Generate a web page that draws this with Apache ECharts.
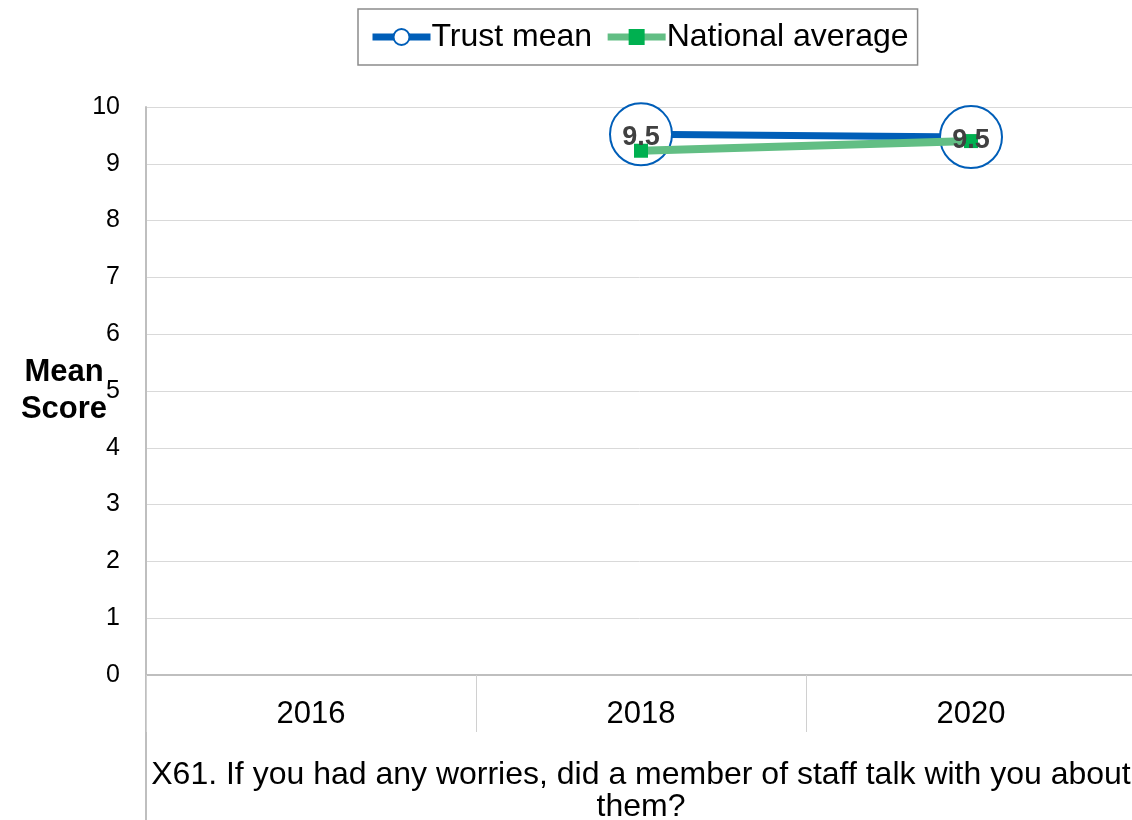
<!DOCTYPE html>
<html><head><meta charset="utf-8">
<script src="https://cdn.jsdelivr.net/npm/echarts@6/dist/echarts.min.js"></script>
<style>html,body{margin:0;padding:0;background:#fff;overflow:hidden}#c{width:1132px;height:820px}</style>
</head><body><div id="c"></div>
<script>
const categories = ['2016', '2018', '2020'];
const trustMean = [null, 9.52, 9.47];
const nationalAvg = [null, 9.23, 9.40];
const yTicks = [0, 10, 1];
const xTitle = 'X61. If you had any worries, did a member of staff talk with you about\nthem?';
const yTitle = 'Mean\nScore';

const chart = echarts.init(document.getElementById('c'));
const font = 'Liberation Sans, Arial, sans-serif';
chart.setOption({
  animation: false,
  textStyle: { fontFamily: font },
  legend: {
    data: [
      { name: 'Trust mean', itemStyle: { color: '#fff', borderColor: '#005EB8', borderWidth: 2 }, lineStyle: { width: 7, color: '#005EB8' } },
      { name: 'National average', lineStyle: { width: 7, color: '#62BE84' } }
    ],
    left: 358, top: 9,
    padding: [12, 9, 12, 11],
    itemGap: 12,
    itemWidth: 58, itemHeight: 20,
    borderColor: '#8c8c8c', borderWidth: 1.5, borderRadius: 0,
    textStyle: { fontSize: 32, color: '#000', fontFamily: font, padding: [0,0,0,-4] }
  },
  grid: { left: 146, top: 107, width: 990, height: 568, containLabel: false, outerBoundsMode: 'none' },
  xAxis: {
    type: 'category', data: categories, boundaryGap: true,
    axisLine: { lineStyle: { color: '#bfbfbf', width: 2 } },
    axisTick: { show: true, interval: 0, length: 57, lineStyle: { color: '#d0d0d0', width: 1 } },
    axisLabel: { fontSize: 31, color: '#000', margin: 24, fontFamily: font },
    name: xTitle, nameLocation: 'middle', nameGap: 84, nameMoveOverlap: false,
    nameTextStyle: { fontSize: 32, color: '#000', lineHeight: 32, fontFamily: font }
  },
  yAxis: {
    type: 'value', min: yTicks[0], max: yTicks[1], interval: yTicks[2],
    axisLine: { show: true, lineStyle: { color: '#bfbfbf', width: 2 } },
    splitLine: { lineStyle: { color: '#d9d9d9', width: 1 } },
    axisLabel: { fontSize: 25, color: '#000', margin: 26, fontFamily: font },
    name: yTitle, nameLocation: 'middle', nameRotate: 0, nameGap: 82, nameMoveOverlap: false,
    nameTextStyle: { fontSize: 31, fontWeight: 'bold', color: '#000', lineHeight: 37, align: 'center', fontFamily: font }
  },
  graphic: [{
    type: 'line', shape: { x1: 146, y1: 675, x2: 146, y2: 820 },
    style: { stroke: '#bfbfbf', lineWidth: 2 }, silent: true
  }],
  series: [
    {
      name: 'Trust mean', type: 'line', data: trustMean, z: 2,
      symbol: 'circle', symbolSize: 62,
      lineStyle: { color: '#005EB8', width: 7 },
      itemStyle: { color: '#fff', borderColor: '#005EB8', borderWidth: 2 },
      label: { show: false }
    },
    {
      name: 'National average', type: 'line', data: nationalAvg, z: 3,
      symbol: 'rect', symbolSize: 14,
      lineStyle: { color: '#62BE84', width: 8 },
      itemStyle: { color: '#00B050' }
    },
    {
      name: 'labels', type: 'line', data: trustMean, z: 5,
      symbol: 'circle', symbolSize: 2, showSymbol: true,
      lineStyle: { width: 0, color: 'rgba(0,0,0,0)' },
      itemStyle: { color: 'rgba(0,0,0,0)' },
      label: { show: true, position: 'inside', offset: [0, 3], fontSize: 27, fontWeight: 'bold', color: '#404040',
        formatter: p => p.value.toFixed(1), fontFamily: font },
      silent: true
    }
  ]
});
</script></body></html>
